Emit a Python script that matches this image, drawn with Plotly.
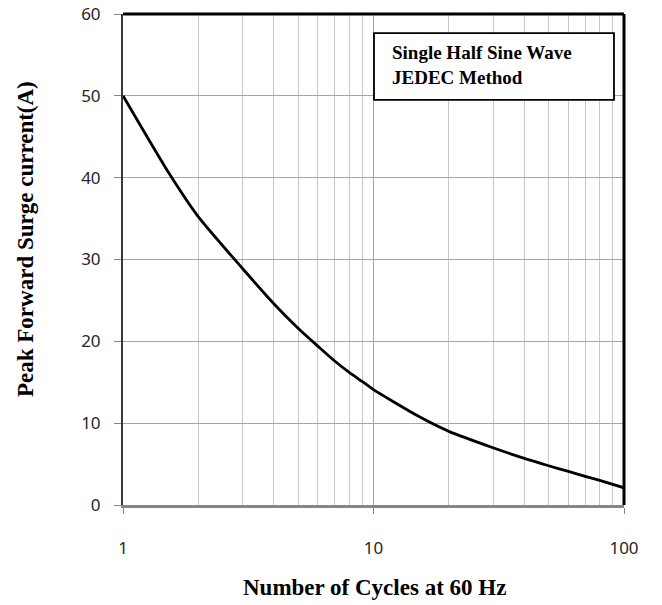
import plotly.graph_objects as go

cycles = [1, 1.5, 2, 3, 4, 5, 6, 7, 8, 9, 10, 15, 20, 30, 40, 50, 60, 70, 80, 100]
surge_current = [50, 40.9, 35.2, 28.9, 24.6, 21.6, 19.4, 17.6, 16.2, 15.1, 14.1, 10.9, 9.0, 7.0, 5.7, 4.8, 4.1, 3.5, 3.0, 2.1]

x_tick_vals = [1, 10, 100]
x_tick_text = ["1", "10", "100"]
x_minor_vals = [2, 3, 4, 5, 6, 7, 8, 9, 20, 30, 40, 50, 60, 70, 80, 90]
y_tick_vals = [0, 10, 20, 30, 40, 50, 60]

fig = go.Figure()
fig.add_trace(go.Scatter(
    x=cycles, y=surge_current, mode="lines",
    line=dict(color="black", width=2.8, shape="spline", smoothing=0.6),
    showlegend=False, hoverinfo="skip",
))

tick_font = dict(family="Noto Sans, Open Sans, sans-serif", size=17, color="#262626")
serif_bold = "Liberation Serif, Times New Roman, serif"

fig.update_xaxes(
    type="log", range=[0, 2],
    tickmode="array", tickvals=x_tick_vals, ticktext=x_tick_text,
    ticks="outside", ticklen=6, tickcolor="#868686", tickwidth=1,
    tickfont=tick_font, ticklabelstandoff=20,
    showgrid=True, gridcolor="#A6A6A6", gridwidth=1,
    minor=dict(tickvals=x_minor_vals, showgrid=True, gridcolor="#C8C8C8", gridwidth=1, ticks=""),
    showline=True, linecolor="#868686", linewidth=3,
    zeroline=False, automargin=False,
)
fig.update_yaxes(
    range=[0, 60], tickmode="array", tickvals=y_tick_vals,
    ticks="outside", ticklen=7, tickcolor="#868686", tickwidth=1,
    tickfont=tick_font, ticklabelstandoff=10,
    showgrid=True, gridcolor="#A6A6A6", gridwidth=1,
    showline=True, linecolor="#3a3a3a", linewidth=2,
    zeroline=False, automargin=False,
)

# top and right border
fig.add_shape(type="line", xref="paper", yref="paper", x0=0, x1=1, y0=1, y1=1,
              line=dict(color="black", width=3))
fig.add_shape(type="line", xref="paper", yref="paper", x0=1, x1=1, y0=0, y1=1,
              line=dict(color="black", width=3))

# legend-like box
fig.add_shape(type="rect", xref="paper", yref="paper", x0=0.501, x1=0.98, y0=0.825, y1=0.961,
              line=dict(color="black", width=1.8), fillcolor="white")
fig.add_annotation(xref="paper", yref="paper", x=(390 - 123) / 501, y=(505 - 64.5) / 491,
                   xanchor="left", yanchor="middle",
                   text="<b>Single Half Sine Wave<br>JEDEC Method</b>", showarrow=False, align="left",
                   font=dict(family=serif_bold, size=19, color="black"))

# axis titles
fig.add_annotation(xref="paper", yref="paper", x=(374 - 123) / 501, y=(505 - 587) / 491,
                   xanchor="center", yanchor="middle",
                   text="<b>Number of Cycles at 60 Hz</b>", showarrow=False,
                   font=dict(family=serif_bold, size=23, color="black"))
fig.add_annotation(xref="paper", yref="paper", x=(26 - 123) / 501, y=(505 - 239) / 491,
                   xanchor="center", yanchor="middle",
                   text="<b>Peak Forward Surge current(A)</b>", showarrow=False, textangle=-90,
                   font=dict(family=serif_bold, size=23, color="black"))

fig.update_layout(
    width=662, height=605,
    margin=dict(l=123, r=38, t=14, b=100, autoexpand=False),
    paper_bgcolor="white", plot_bgcolor="white",
)

fig.write_html("out.html", config={"displayModeBar": False},
               post_script="document.body.style.margin='0';document.body.style.overflow='hidden';")
